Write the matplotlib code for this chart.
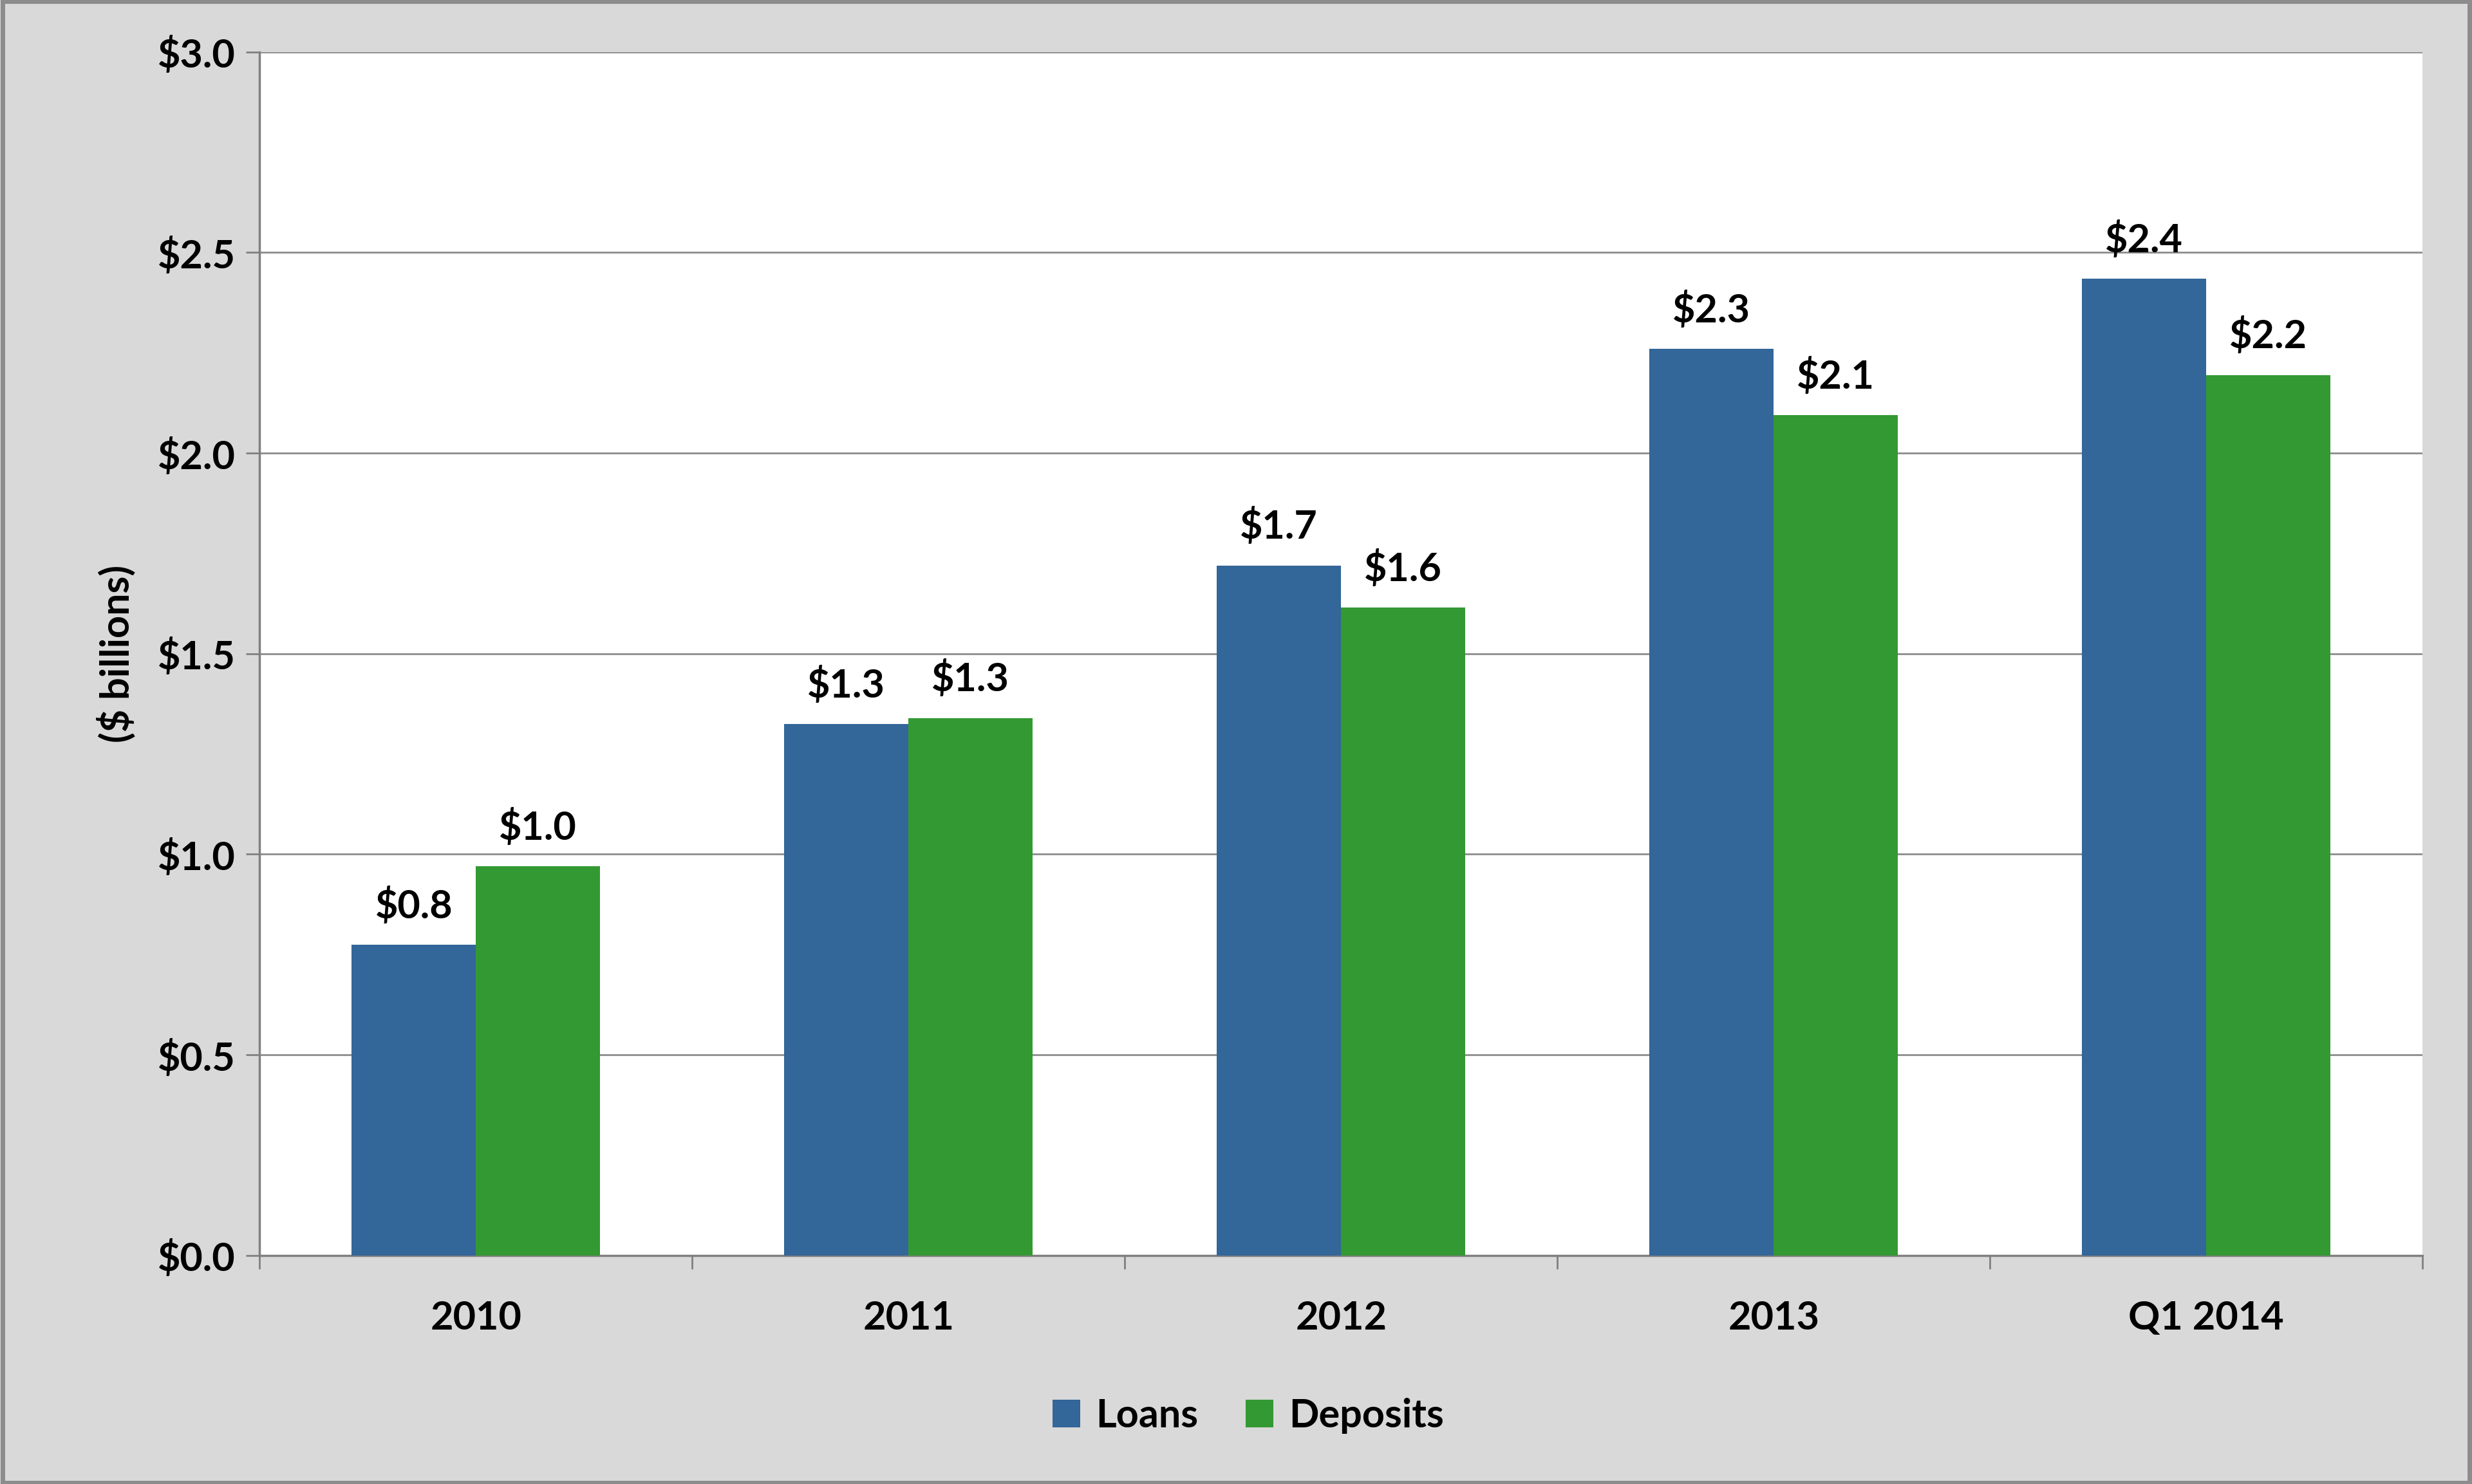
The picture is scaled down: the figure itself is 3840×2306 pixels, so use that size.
import matplotlib
matplotlib.use("Agg")
import matplotlib.pyplot as plt
import numpy as np

categories = ["2010", "2011", "2012", "2013", "Q1 2014"]
loans = [0.775, 1.325, 1.72, 2.26, 2.435]
deposits = [0.97, 1.34, 1.615, 2.095, 2.195]
loan_labels = ["$0.8", "$1.3", "$1.7", "$2.3", "$2.4"]
dep_labels = ["$1.0", "$1.3", "$1.6", "$2.1", "$2.2"]
yticks = [0, 0.5, 1.0, 1.5, 2.0, 2.5, 3.0]

plt.rcParams['font.family'] = ['Lato', 'DejaVu Sans']
plt.rcParams['font.weight'] = 'bold'
fs = 44

fig = plt.figure(figsize=(38.4, 23.06), dpi=100, facecolor='#d9d9d9')
fig.patches.append(plt.Rectangle((0.001, 0.001), 0.998, 0.998, transform=fig.transFigure,
                                 fill=False, edgecolor='#8c8c8c', linewidth=5))
ax = fig.add_axes([0.105, 0.154, 0.875, 0.811])
ax.set_facecolor('white')
x = np.arange(len(categories))
w = 0.287
b1 = ax.bar(x - w/2, loans, w, color='#336699', label='Loans', zorder=3)
b2 = ax.bar(x + w/2, deposits, w, color='#339933', label='Deposits', zorder=3)
for bars, labs in ((b1, loan_labels), (b2, dep_labels)):
    for r, t in zip(bars, labs):
        ax.text(r.get_x() + r.get_width()/2, r.get_height() + 0.05, t,
                ha='center', va='bottom', fontsize=fs, fontweight='bold')
ax.set_xlim(-0.5, len(categories) - 0.5)
ax.set_ylim(0, 3.0)
ax.set_yticks(yticks)
ax.set_yticklabels([f"${v:.1f}" for v in yticks], fontsize=fs, fontweight='bold')
ax.set_xticks(x)
ax.set_xticklabels(categories, fontsize=fs, fontweight='bold')
ax.set_xticks(np.arange(-0.5, len(categories)), minor=True)
ax.tick_params(axis='x', which='major', length=0, pad=50)
ax.tick_params(axis='x', which='minor', length=15, width=2, color='#808080')
ax.tick_params(axis='y', length=15, width=2, color='#808080', pad=12)
ax.grid(axis='y', color='#8c8c8c', linewidth=2, zorder=0)
for s in ['top', 'right']:
    ax.spines[s].set_visible(False)
for s in ['left', 'bottom']:
    ax.spines[s].set_color('#808080')
    ax.spines[s].set_linewidth(2.5)
ax.set_ylabel("($ billions)", fontsize=fs, fontweight='bold', labelpad=25)
fig.legend(handles=[b1, b2], loc='center', bbox_to_anchor=(0.505, 0.046), ncol=2,
           frameon=False, fontsize=fs, handlelength=0.7, handleheight=0.7,
           handletextpad=0.4, columnspacing=1.2)
fig.savefig("out.png", dpi=100, facecolor=fig.get_facecolor())
